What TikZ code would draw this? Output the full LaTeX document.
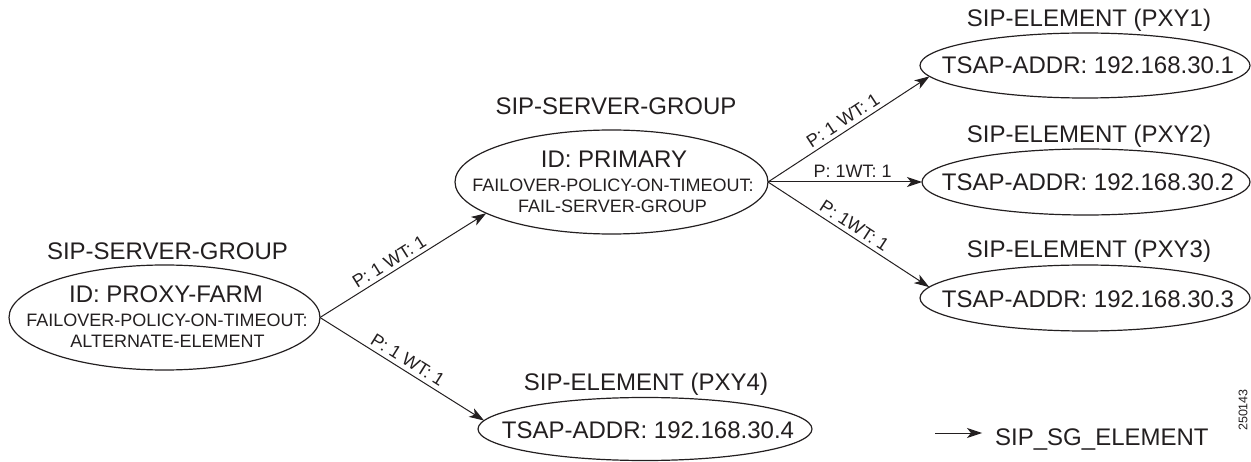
\documentclass[tikz,border=0pt]{standalone}
\usepackage{fontspec}
\setmainfont{Liberation Sans}
\usetikzlibrary{shapes.geometric,arrows.meta}
\definecolor{ink}{HTML}{231F20}
\begin{document}
\begin{tikzpicture}[x=1pt,y=-1pt,
  elli/.style={draw=ink, line width=1.2pt, ellipse, inner sep=0pt, outer sep=0pt},
  big/.style={font=\fontsize{24}{28}\selectfont, text=ink, inner sep=0pt, anchor=base},
  small/.style={font=\fontsize{18}{21}\selectfont, text=ink, inner sep=0pt, anchor=base},
  conn/.style={draw=ink, line width=1pt, -{Stealth[length=15pt,width=10pt,inset=4pt]}},
  wlab/.style={font=\fontsize{18}{21}\selectfont, text=ink, sloped, above, inner sep=4pt}]
\useasboundingbox (0,0) rectangle (1251,462);

% server group PROXY-FARM
\node[elli, minimum width=311pt, minimum height=105pt] (proxy) at (164.5,317.5) {};
\node[big] (proxyT) at (167.5,260) {SIP-SERVER-GROUP};
\node[big] (proxyA) at (166,303) {ID: PROXY-FARM};
\node[small] (proxyB) at (167,327) {FAILOVER-POLICY-ON-TIMEOUT:};
\node[small] (proxyC) at (167.5,348) {ALTERNATE-ELEMENT};

% server group PRIMARY
\node[elli, minimum width=313pt, minimum height=104pt] (primary) at (611.5,182) {};
\node[big] (primT) at (616,115) {SIP-SERVER-GROUP};
\node[big] (primA) at (614,168) {ID: PRIMARY};
\node[small] (primB) at (613,191.5) {FAILOVER-POLICY-ON-TIMEOUT:};
\node[small] (primC) at (612.5,213) {FAIL-SERVER-GROUP};

% elements
\node[elli, minimum width=330pt, minimum height=65pt] (pxy1) at (1085,65.5) {};
\node[big] (pxy1T) at (1089,27) {SIP-ELEMENT (PXY1)};
\node[big] (pxy1A) at (1088,73.5) {TSAP-ADDR: 192.168.30.1};

\node[elli, minimum width=328pt, minimum height=66pt] (pxy2) at (1086,182) {};
\node[big] (pxy2T) at (1089,143) {SIP-ELEMENT (PXY2)};
\node[big] (pxy2A) at (1088,191) {TSAP-ADDR: 192.168.30.2};

\node[elli, minimum width=330pt, minimum height=66pt] (pxy3) at (1085,298) {};
\node[big] (pxy3T) at (1089,258) {SIP-ELEMENT (PXY3)};
\node[big] (pxy3A) at (1088,307.5) {TSAP-ADDR: 192.168.30.3};

\node[elli, minimum width=334pt, minimum height=63pt] (pxy4) at (645,429) {};
\node[big] (pxy4T) at (646,391) {SIP-ELEMENT (PXY4)};
\node[big] (pxy4A) at (648,438) {TSAP-ADDR: 192.168.30.4};

% connectors
\draw[conn] (proxy.east) -- node[wlab, pos=0.45] (l1) {P: 1 WT: 1} (primary.194.3);
\draw[conn] (proxy.east) -- node[wlab] (l2) {P: 1 WT: 1} (pxy4.177.5);
\draw[conn] (primary.east) -- node[wlab] (l3) {P: 1 WT: 1} (pxy1.184);
\draw[conn] (primary.east) -- node[wlab, pos=0.55] (l4) {P: 1WT: 1} (pxy2.west);
\draw[conn] (primary.east) -- node[wlab] (l5) {P: 1WT: 1} (pxy3.176.4);

% legend
\coordinate (lgs) at (935,433);
\coordinate (lge) at (982,433);
\draw[conn] (lgs) -- (lge);
\node[big, anchor=base west] (legend) at (995,445) {SIP\_SG\_ELEMENT};
\node[font=\fontsize{12.5}{14}\selectfont, text=ink, rotate=90, inner sep=0pt] (figno) at (1243,410) {250143};
\end{tikzpicture}
\end{document}
